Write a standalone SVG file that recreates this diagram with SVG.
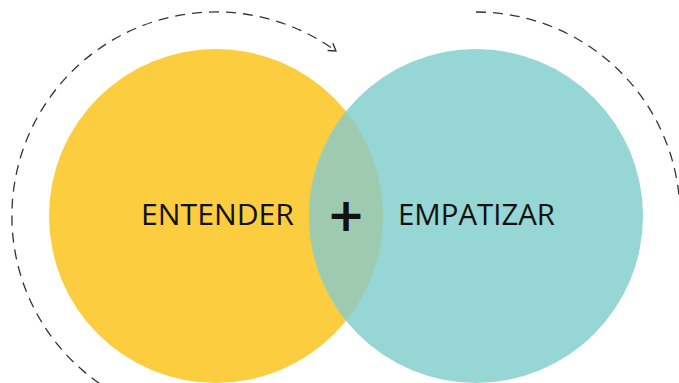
<svg xmlns="http://www.w3.org/2000/svg" width="679" height="383" viewBox="0 0 679 383">
<style>
.lbl{font-family:"Open Sans","Noto Sans","Liberation Sans",sans-serif;font-size:29px;fill:#111}
.arc{fill:none;stroke:#333;stroke-width:1.3;stroke-dasharray:10 7}
</style>
<defs>
<marker id="arr" markerWidth="12" markerHeight="12" refX="9" refY="6" orient="auto" markerUnits="userSpaceOnUse">
<path d="M2,1.5 L9,6 L2,10.5" fill="none" stroke="#333" stroke-width="1.4"/>
</marker>
</defs>
<rect width="679" height="383" fill="#fff"/>
<g id="entender">
<circle cx="216" cy="216" r="167" fill="#FCCD3F"/>
</g>
<g id="empatizar">
<circle cx="476" cy="216" r="167" fill="#96D6D4"/>
</g>
<g id="overlap">
<path d="M346,111.2 A167,167 0 0 1 346,320.8 A167,167 0 0 1 346,111.2 Z" fill="#9ECBB0"/>
</g>
<g id="labels">
<text class="lbl" x="141" y="225" textLength="153" lengthAdjust="spacingAndGlyphs">ENTENDER</text>
<text class="lbl" x="398" y="225" textLength="157" lengthAdjust="spacingAndGlyphs">EMPATIZAR</text>
<text x="346" y="231" text-anchor="middle" font-family="DejaVu Sans, sans-serif" font-weight="bold" font-size="46" fill="#111">+</text>
</g>
<g id="connectors">
<path class="arc" d="M114,392.7 A204,204 0 1 1 335.9,51" marker-end="url(#arr)"/>
<path class="arc" d="M476,12 A204,204 0 0 1 679.9,223.1"/>
</g>
</svg>
